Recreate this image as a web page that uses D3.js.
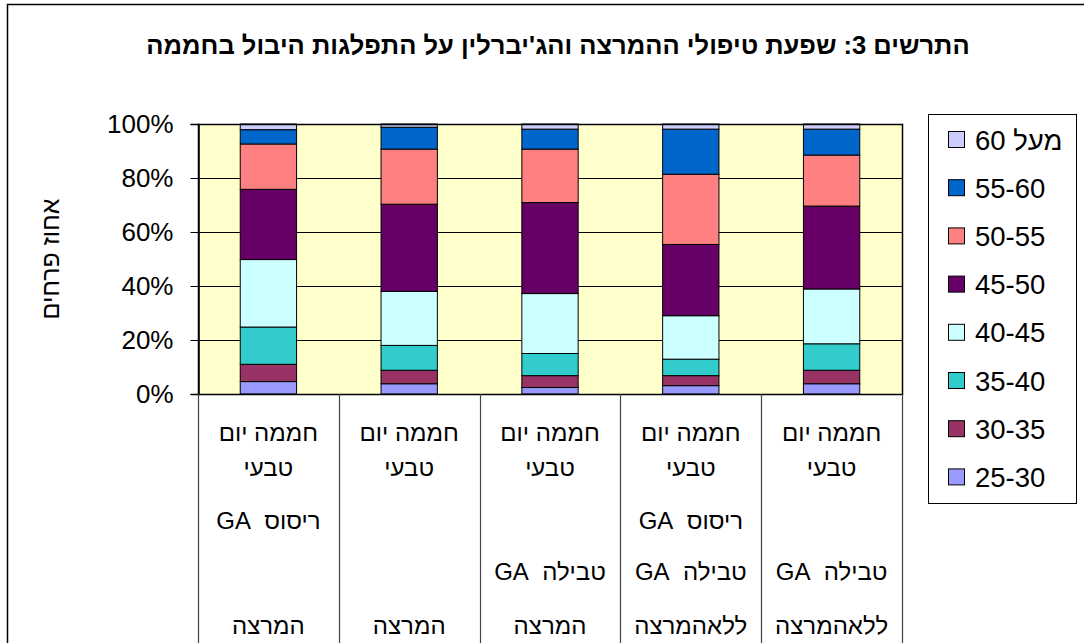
<!DOCTYPE html>
<html>
<head>
<meta charset="utf-8">
<script src="https://cdn.jsdelivr.net/npm/d3@7"></script>
<style>
  html, body { margin: 0; padding: 0; background: #fff; }
  svg { display: block; font-family: "Liberation Sans", Arial, "DejaVu Sans", sans-serif; }
</style>
</head>
<body>
<svg id="chart" width="1084" height="643"></svg>
<script>
// ---- data ----
const title = "התרשים 3: שפעת טיפולי ההמרצה והג'יברלין על התפלגות היבול בחממה";
const yAxisTitle = "אחוז פרחים";
const categories = ["c1", "c2", "c3", "c4", "c5"];
const categoryLines = [
  ["חממה יום", "טבעי", "ריסוס\u00A0 GA", "", "המרצה"],
  ["חממה יום", "טבעי", "", "", "המרצה"],
  ["חממה יום", "טבעי", "", "טבילה\u00A0 GA", "המרצה"],
  ["חממה יום", "טבעי", "ריסוס\u00A0 GA", "טבילה\u00A0 GA", "ללאהמרצה"],
  ["חממה יום", "טבעי", "", "טבילה\u00A0 GA", "ללאהמרצה"]
];
const seriesNames = ["25-30", "30-35", "35-40", "40-45", "45-50", "50-55", "55-60", "מעל 60"];
const s25_30 = [4.6, 3.8, 2.4, 3.1, 3.8];
const s30_35 = [6.4, 5.0, 4.4, 3.7, 5.0];
const s35_40 = [13.8, 9.2, 8.2, 6.1, 9.8];
const s40_45 = [25.0, 20.0, 22.2, 16.1, 20.3];
const s45_50 = [26.0, 32.3, 33.7, 26.4, 30.7];
const s50_55 = [16.8, 20.4, 19.8, 26.0, 18.9];
const s55_60 = [5.3, 8.1, 7.4, 16.7, 9.6];
const s60up  = [2.1, 1.2, 1.9, 1.9, 1.9];
const seriesValues = [s25_30, s30_35, s35_40, s40_45, s45_50, s50_55, s55_60, s60up];
const seriesColors = ["#9999FF", "#993366", "#33CCCC", "#CCFFFF", "#660066", "#FF8080", "#0066CC", "#CCCCFF"];
const yTicks = [0, 0.2, 0.4, 0.6, 0.8, 1.0];

// ---- layout ----
const svg = d3.select("#chart");
const plot = { left: 198, right: 902, top: 124, bottom: 394 };
const fontFam = "'Liberation Sans', Arial, 'DejaVu Sans', sans-serif";

// outer border (chart area, cropped right/bottom)
svg.append("path")
  .attr("d", `M7.5,700 L7.5,4.5 L1100,4.5`)
  .attr("fill", "none").attr("stroke", "#000").attr("stroke-width", 1.5);

// table rows
const rows = categories.map((c, i) => {
  const r = { cat: c };
  seriesNames.forEach((s, j) => r[s] = seriesValues[j][i]);
  return r;
});
const stacked = d3.stack().keys(seriesNames).offset(d3.stackOffsetExpand)(rows);

const x = d3.scaleBand().domain(categories).range([plot.left, plot.right])
  .paddingInner(0.6).paddingOuter(0.3);
const xCol = d3.scaleBand().domain(categories).range([plot.left, plot.right]);
const y = d3.scaleLinear().domain([0, 1]).range([plot.bottom, plot.top]);

// plot background
svg.append("rect")
  .attr("x", plot.left).attr("y", plot.top)
  .attr("width", plot.right - plot.left).attr("height", plot.bottom - plot.top)
  .attr("fill", "#FFFFCC");

// gridlines
svg.append("g").selectAll("line").data(yTicks.filter(d => d > 0)).join("line")
  .attr("x1", plot.left).attr("x2", plot.right)
  .attr("y1", d => Math.round(y(d)) + 0.5).attr("y2", d => Math.round(y(d)) + 0.5)
  .attr("stroke", "#000").attr("stroke-width", 1);

// bars
svg.append("g").selectAll("g").data(stacked).join("g")
  .attr("fill", (d, i) => seriesColors[i])
  .selectAll("rect").data(d => d).join("rect")
  .attr("x", d => x(d.data.cat))
  .attr("width", x.bandwidth())
  .attr("y", d => y(d[1]))
  .attr("height", d => y(d[0]) - y(d[1]))
  .attr("stroke", "#000").attr("stroke-width", 1);

// plot border
svg.append("rect")
  .attr("x", plot.left + 0.5).attr("y", plot.top + 0.5)
  .attr("width", plot.right - plot.left).attr("height", plot.bottom - plot.top)
  .attr("fill", "none").attr("stroke", "#000").attr("stroke-width", 1.5);

// y axis
const yAxis = svg.append("g")
  .attr("transform", `translate(${plot.left + 0.5},0)`)
  .call(d3.axisLeft(y).tickValues(yTicks).tickFormat(d3.format(".0%")).tickSize(8).tickPadding(17));
yAxis.select(".domain").attr("stroke", "#000").attr("stroke-width", 1.5);
yAxis.selectAll(".tick line").attr("stroke", "#000");
yAxis.selectAll(".tick text").attr("font-size", 26).attr("font-family", fontFam).attr("fill", "#000");

// category separators (extend below axis)
const sepX = categories.map(c => xCol(c)).concat([plot.right]);
svg.append("g").selectAll("line").data(sepX).join("line")
  .attr("x1", d => Math.round(d) + 0.5).attr("x2", d => Math.round(d) + 0.5)
  .attr("y1", plot.bottom).attr("y2", 650)
  .attr("stroke", "#444").attr("stroke-width", 1.2);

// category labels
const lineY = [433, 468, 521, 572, 626];
const catG = svg.append("g");
categories.forEach((c, i) => {
  const cx = xCol(c) + xCol.bandwidth() / 2;
  categoryLines[i].forEach((t, k) => {
    if (!t) return;
    catG.append("text")
      .attr("x", cx).attr("y", lineY[k])
      .attr("dy", "0.35em")
      .attr("text-anchor", "middle")
      .attr("direction", "rtl")
      .style("unicode-bidi", "embed")
      .attr("font-size", 24).attr("font-family", fontFam)
      .text(t);
  });
});

// y axis title
svg.append("text")
  .attr("transform", `translate(50,${(plot.top + plot.bottom) / 2}) rotate(-90)`)
  .attr("text-anchor", "middle").attr("dy", "0.35em")
  .attr("direction", "rtl")
  .attr("font-size", 25).attr("font-family", fontFam)
  .text(yAxisTitle);

// title
svg.append("text")
  .attr("x", 558).attr("y", 45).attr("dy", "0.35em")
  .attr("text-anchor", "middle")
  .attr("direction", "rtl")
  .style("unicode-bidi", "embed")
  .attr("font-size", 25.5).attr("font-weight", "bold").attr("font-family", fontFam)
  .text(title);

// legend
const leg = { x: 928, y: 114, w: 148, h: 389, top: 140, step: 48.2 };
svg.append("rect")
  .attr("x", leg.x + 0.5).attr("y", leg.y + 0.5).attr("width", leg.w).attr("height", leg.h)
  .attr("fill", "#fff").attr("stroke", "#000").attr("stroke-width", 1);
const legItems = seriesNames.map((s, i) => ({ name: s, color: seriesColors[i] })).reverse();
const lg = svg.append("g").selectAll("g").data(legItems).join("g")
  .attr("transform", (d, i) => `translate(948,${leg.top + i * leg.step})`);
lg.append("rect")
  .attr("x", 0.5).attr("y", -8.5).attr("width", 16).attr("height", 16)
  .attr("fill", d => d.color).attr("stroke", "#000").attr("stroke-width", 1);
lg.append("text")
  .attr("x", 27).attr("y", 0).attr("dy", "0.35em")
  .attr("font-size", 27.5).attr("font-family", fontFam)
  .text(d => "\u202B" + d.name + "\u202C");
</script>
</body>
</html>
